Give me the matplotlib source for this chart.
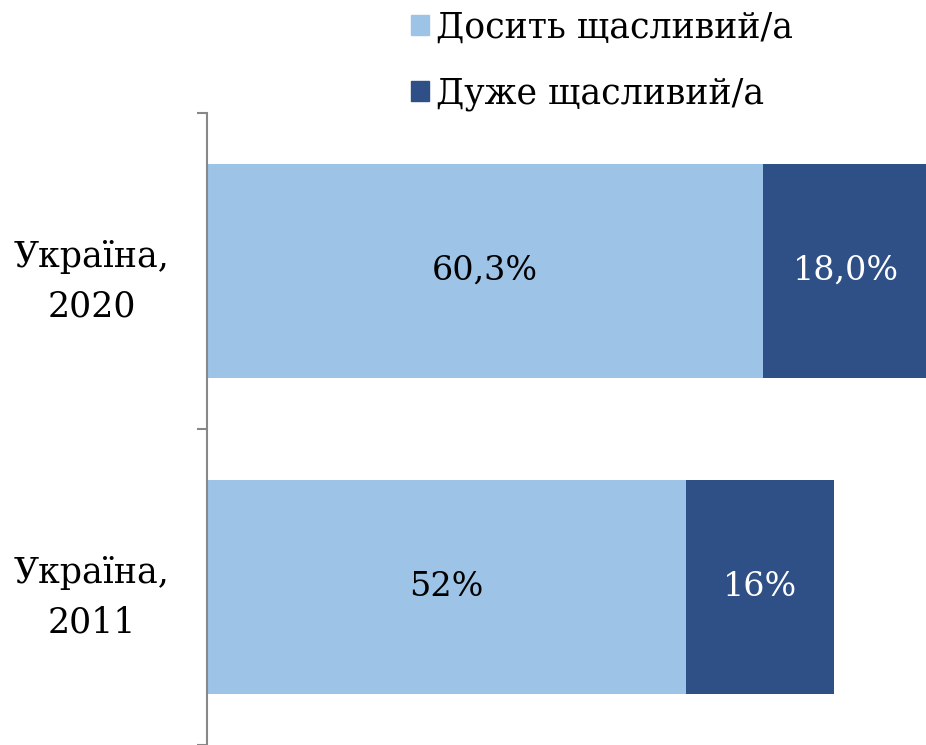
import numpy as np
import matplotlib.pyplot as plt
from matplotlib import rcParams
from matplotlib.patches import Patch

rcParams['font.family'] = ['DejaVu Serif']
rcParams['font.size'] = 24

categories = ['Україна,\n2020', 'Україна,\n2011']
fairly_happy = [60.3, 52]
very_happy = [18.0, 16]
fairly_labels = ['60,3%', '52%']
very_labels = ['18,0%', '16%']
series_names = ['Досить щасливий/а', 'Дуже щасливий/а']

light = '#9DC3E6'
dark = '#2E5086'

fig = plt.figure(figsize=(9.26, 7.45), dpi=100)
ax = fig.add_axes([207 / 926, 0, 1 - 207 / 926, 1 - 113 / 745])

y = np.arange(len(categories))
ax.barh(y, fairly_happy, height=0.68, color=light)
ax.barh(y, very_happy, left=fairly_happy, height=0.68, color=dark)

for i in range(len(categories)):
    ax.text(fairly_happy[i] / 2, y[i], fairly_labels[i], ha='center',
            va='center', color='black')
    ax.text(fairly_happy[i] + very_happy[i] / 2, y[i], very_labels[i],
            ha='center', va='center', color='white')

ax.set_xlim(0, 78)
ax.set_ylim(1.5, -0.5)
ax.set_yticks(y)
ax.set_yticklabels(categories, ha='center', linespacing=1.55, fontsize=25)
ax.set_yticks([-0.5, 0.5, 1.5], minor=True)
ax.tick_params(axis='y', which='major', length=0, pad=83)
ax.tick_params(axis='y', which='minor', length=7, color='#888888', width=1.5)
ax.set_xticks([])
for side in ['top', 'right', 'bottom']:
    ax.spines[side].set_visible(False)
ax.spines['left'].set_color('#888888')
ax.spines['left'].set_linewidth(1.5)

handles = [Patch(color=light), Patch(color=dark)]
leg = fig.legend(handles, series_names, loc='upper left',
                 bbox_to_anchor=(380 / 926, 1.028), frameon=False,
                 fontsize=25, handlelength=0.5, handleheight=0.5,
                 handletextpad=0.2, labelspacing=0.92)

fig.savefig('out.png', dpi=100)
